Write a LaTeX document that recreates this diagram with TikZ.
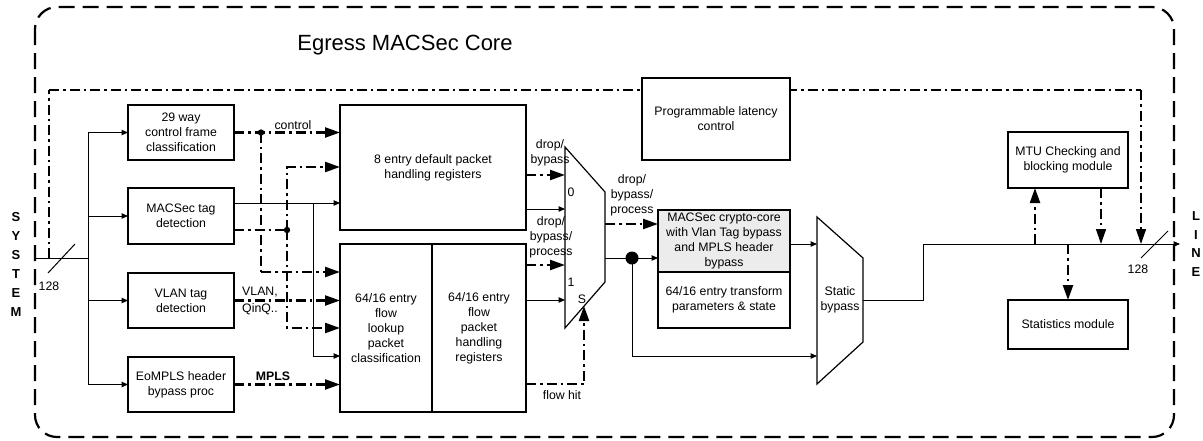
\documentclass[tikz,border=0pt]{standalone}
\usepackage{fontspec}
\setmainfont{Liberation Sans}
\usetikzlibrary{arrows.meta}

\begin{document}
\begin{tikzpicture}[x=1pt,y=-1pt,
        font=\fontsize{12.3}{15}\selectfont,
        blk/.style={draw,line width=1.2pt,align=center,inner sep=2pt,outer sep=0pt},
        sig/.style={line width=1pt},
        ctl/.style={line width=2.3pt,dash pattern=on 10pt off 4pt on 2.5pt off 4pt},
        ctlthin/.style={line width=1.4pt,dash pattern=on 10pt off 4pt on 2.5pt off 4pt},
        big/.style={-{Triangle[length=15pt,width=10pt]}},
        sml/.style={-{Triangle[length=6.5pt,width=5.5pt]}}]
        \useasboundingbox (0,0) rectangle (1203,440);
        % core frame
        \draw[line width=2.2pt,dash pattern=on 16pt off 8pt,rounded corners=22] (35,7) rectangle (1174,437);
        \node (ttl) at (405,45) {\fontsize{22}{26}\selectfont Egress MACSec Core};
        \node[font=\fontsize{13}{19}\selectfont\bfseries,align=center] (sys) at (16,264.5) {S\\Y\\S\\T\\E\\M};
        \node[font=\fontsize{13}{18.7}\selectfont\bfseries,align=center] (lin) at (1196,244) {L\\I\\N\\E};
        % global control path
        \coordinate (c0) at (49,258);
        \coordinate (c1) at (49,90);
        \coordinate (c2) at (1141,90);
        \coordinate (t4) at (1141,244);
        \draw[ctlthin] (c0) -- (c1);
        \draw[ctl] (c1) -- (c2);
        \draw[ctlthin,big] (c2) -- (t4);
        % blocks
        \node[blk,minimum width=106,minimum height=55] (cfc) at (181,132.5) {29 way\\control frame\\classification};
        \node[blk,minimum width=106,minimum height=56] (mtd) at (181,216) {MACSec tag\\detection};
        \node[blk,minimum width=106,minimum height=55] (vtd) at (181,300.5) {VLAN tag\\detection};
        \node[blk,minimum width=106,minimum height=55] (eom) at (181,384.5) {EoMPLS header\\bypass proc};
        \node[blk,minimum width=186,minimum height=125] (dflt) at (433,167.5) {8 entry default packet\\handling registers};
        \node[blk,minimum width=92,minimum height=168] (flk) at (386,328) {64/16 entry\\flow\\lookup\\packet\\classification};
        \node[blk,minimum width=94,minimum height=168] (fph) at (479,328) {64/16 entry\\flow\\packet\\handling\\registers};
        \node[blk,fill=white,minimum width=148,minimum height=82] (lat) at (716,119) {Programmable latency\\control};
        \node[blk,fill=gray!15,minimum width=132,minimum height=62] (cry) at (724,241) {MACSec crypto-core\\with Vlan Tag bypass\\and MPLS header\\bypass};
        \node[blk,minimum width=132,minimum height=56] (crt) at (724,300) {64/16 entry transform\\parameters \& state};
        \node[blk,minimum width=120,minimum height=56] (mtu) at (1068,160) {MTU Checking and\\blocking module};
        \node[blk,minimum width=120,minimum height=49] (stat) at (1068,324.5) {Statistics module};
        % muxes
        \draw[line width=1.2pt] (565,147) -- (605,192) -- (605,282) -- (565,328) -- cycle;
        \node (m0l) at (571,192) {0};
        \node (m1l) at (571,282) {1};
        \node (msl) at (582,299) {S};
        \draw[line width=1.2pt] (817,217) -- (863,258) -- (863,342) -- (817,384) -- cycle;
        \node[align=center] (sbl) at (840,300) {Static\\bypass};
        % system input
        \coordinate (sin) at (36,258);
        \coordinate (bus) at (88,258);
        \draw[sig] (sin) -- (bus);
        \draw[sig] (bus |- cfc.west) -- (bus |- eom.west);
        \foreach \b in {cfc,mtd,vtd,eom}
            \draw[sig,sml] (bus |- \b.west) -- (\b.west);
        \draw[sig] (48,273) -- (75,244);
        \node (w0) at (49,286) {128};
        % classification to lookup
        \coordinate (j1) at (261,132.5);
        \coordinate (k1) at (261,272);
        \coordinate (j2) at (287,230);
        \coordinate (k2) at (287,167);
        \coordinate (k3) at (287,328);
        \coordinate (j3) at (313,203);
        \coordinate (k4) at (313,356);
        \draw[ctl,big] (cfc.east) -- (dflt.west |- cfc.east);
        \node (lctl) at (293,125) {control};
        \draw[ctlthin] (j1) -- (k1);
        \draw[ctl,big] (k1) -- (flk.west |- k1);
        \fill (j1) circle (3.2);
        \draw[ctl] (mtd.east |- j2) -- (j2);
        \draw[ctl,big] (j2) -- (k2) -- (dflt.west |- k2);
        \draw[ctl,big] (j2) -- (k3) -- (flk.west |- k3);
        \fill (j2) circle (3.2);
        \draw[ctl,big] (vtd.east) -- (flk.west |- vtd.east);
        \node[align=center] (lvl) at (260,300.5) {VLAN,\\[2pt]QinQ..};
        \draw[ctl,big] (eom.east) -- (flk.west |- eom.east);
        \node[font=\fontsize{12.3}{15}\selectfont\bfseries] (lmp) at (273,376) {MPLS};
        \draw[sig,sml] (mtd.east |- j3) -- (dflt.west |- j3);
        \draw[sig,sml] (j3) -- (k4) -- (flk.west |- k4);
        % into the mux
        \coordinate (m0) at (565,175);
        \coordinate (m0s) at (565,209);
        \coordinate (m1) at (565,265);
        \coordinate (m1s) at (565,300);
        \coordinate (fh) at (584,384);
        \coordinate (ms) at (584,306);
        \draw[ctl,big] (dflt.east |- m0) -- (m0);
        \draw[sig,sml] (dflt.east |- m0s) -- (m0s);
        \draw[ctl,big] (fph.east |- m1) -- (m1);
        \draw[sig,sml] (fph.east |- m1s) -- (m1s);
        \draw[ctl,big] (fph.east |- fh) -- (fh) -- (ms);
        \node[align=center] (ld0) at (550,153) {drop/\\bypass};
        \node[align=center] (ld1) at (551,237) {drop/\\bypass/\\process};
        \node (lfh) at (562,395) {flow hit};
        % mux to crypto core
        \coordinate (mo1) at (605,224);
        \coordinate (mo2) at (605,258);
        \coordinate (j4) at (632,258);
        \coordinate (k5) at (632,356);
        \coordinate (sb1) at (817,244);
        \coordinate (sb2) at (817,356);
        \draw[ctl,big] (mo1) -- (cry.west |- mo1);
        \node[align=center] (ld2) at (632,195) {drop/\\bypass/\\process};
        \draw[sig,sml] (mo2) -- (cry.west |- mo2);
        \draw[sig,sml] (j4) -- (k5) -- (sb2);
        \fill (j4) circle (6.5);
        \draw[sig,sml] (cry.east |- sb1) -- (sb1);
        % line output
        \coordinate (sbo) at (863,300);
        \coordinate (k6) at (923,300);
        \coordinate (k7) at (923,244);
        \coordinate (lout) at (1180,244);
        \draw[sig,sml] (sbo) -- (k6) -- (k7) -- (lout);
        \coordinate (t1) at (1035,244);
        \coordinate (t2) at (1101,244);
        \coordinate (t3) at (1068,244);
        \draw[ctl,big] (t1) -- (mtu.south -| t1);
        \draw[ctlthin,big] (mtu.south -| t2) -- (t2);
        \draw[ctl,big] (t3) -- (stat.north -| t3);
        \draw[sig] (1141,258) -- (1168,231);
        \node (w1) at (1138,269) {128};
    \end{tikzpicture}
\end{document}
